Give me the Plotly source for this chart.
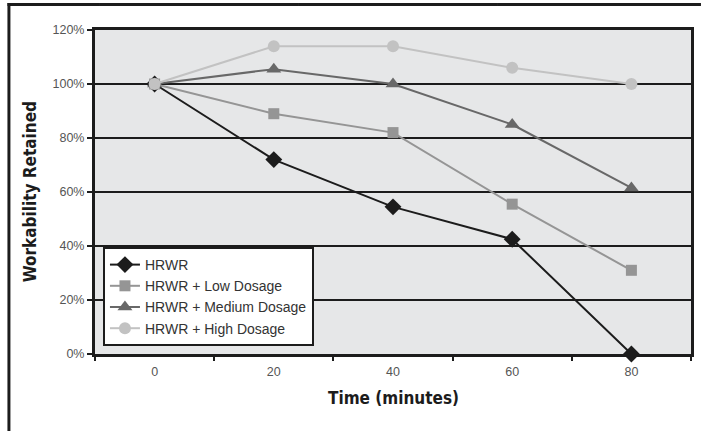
import plotly.graph_objects as go

times = ["0", "20", "40", "60", "80"]
series_names = ["HRWR", "HRWR + Low Dosage", "HRWR + Medium Dosage", "HRWR + High Dosage"]
hrwr = [100, 72, 54.5, 42.5, 0]
low = [100, 89, 82, 55.5, 31]
medium = [100, 105.5, 100, 85, 61.5]
high = [100, 114, 114, 106, 100]
y_ticks = [0, 20, 40, 60, 80, 100, 120]
y_tick_labels = ["0%", "20%", "40%", "60%", "80%", "100%", "120%"]

values = [hrwr, low, medium, high]
colors = ["#1c1c1c", "#959595", "#686868", "#c2c2c2"]
symbols = ["diamond", "square", "triangle-up", "circle"]
sizes = [13, 11, 13, 12]

fig = go.Figure()
for name, vals, c, s, sz in zip(series_names, values, colors, symbols, sizes):
    fig.add_trace(go.Scatter(
        x=times, y=vals, name=name, mode="lines+markers",
        line=dict(color=c, width=2),
        marker=dict(symbol=s, size=sz, color=c),
        cliponaxis=False,
    ))

W, H = 704, 431
L, R, T, B = 95, 10, 30, 77
pw, ph = W - L - R, H - T - B

def px(x):
    return (x - L) / pw

def py(y):
    return (H - B - y) / ph

font_family = "Liberation Sans, Arial, sans-serif"
title_family = "Liberation Sans Narrow, DejaVu Sans Condensed, Liberation Sans, sans-serif"

frame_shapes = []
# top frame line drawn in segments
for xa, xb in [(7, 100), (100, 300), (300, 500), (500, 704)]:
    frame_shapes.append(dict(type="rect", xref="paper", yref="paper",
                             x0=px(xa), x1=px(xb), y0=py(6), y1=py(3),
                             fillcolor="#1c1c1c", line=dict(width=0), layer="above"))
# left frame line
frame_shapes.append(dict(type="rect", xref="paper", yref="paper",
                         x0=px(7), x1=px(10), y0=py(431), y1=py(3),
                         fillcolor="#1c1c1c", line=dict(width=0), layer="above"))

fig.update_layout(
    width=W, height=H,
    margin=dict(l=L, r=R, t=T, b=B),
    paper_bgcolor="white",
    plot_bgcolor="#e6e7e8",
    showlegend=True,
    legend=dict(
        x=px(103), y=py(346), xanchor="left", yanchor="bottom",
        bgcolor="white", bordercolor="#1c1c1c", borderwidth=2,
        font=dict(family=font_family, size=14, color="#333333"),
        tracegroupgap=0, itemwidth=30,
    ),
    xaxis=dict(
        type="category", range=[-0.5, 4.5],
        showgrid=False, zeroline=False,
        showline=True, linecolor="#1c1c1c", linewidth=3, mirror=True,
        ticks="outside", ticklen=4, tickwidth=2, tickcolor="#1c1c1c",
        tickson="boundaries", ticklabelstandoff=4,
        tickfont=dict(family=font_family, size=12.5, color="#555555"),
    ),
    yaxis=dict(
        range=[0, 120], tickvals=y_ticks, ticktext=y_tick_labels,
        showgrid=True, gridcolor="#1c1c1c", gridwidth=2, zeroline=False,
        showline=True, linecolor="#1c1c1c", linewidth=3, mirror=True,
        ticks="outside", ticklen=5, tickwidth=2, tickcolor="#1c1c1c",
        tickfont=dict(family=font_family, size=12.5, color="#555555"),
    ),
    annotations=[
        dict(text="<b>Time (minutes)</b>", xref="paper", yref="paper",
             x=px(395), y=py(398), xanchor="center", yanchor="middle",
             showarrow=False, font=dict(family=title_family, size=17, color="#1c1c1c")),
        dict(text="<b>Workability Retained</b>", xref="paper", yref="paper",
             x=px(30), y=py(192), xanchor="center", yanchor="middle", textangle=-90,
             showarrow=False, font=dict(family=title_family, size=17, color="#1c1c1c")),
    ],
    shapes=frame_shapes,
)

fig.write_html(
    "out.html",
    config={"displayModeBar": False},
    post_script="document.body.style.margin='0';document.body.style.overflow='hidden';",
)
